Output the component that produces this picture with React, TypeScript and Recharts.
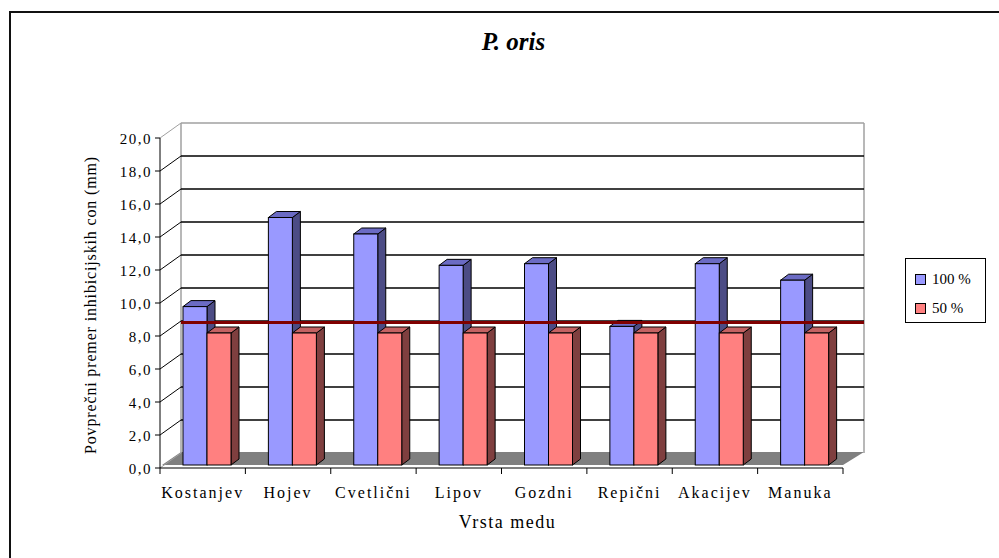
import React from "react"
import { BarChart, Bar, XAxis, YAxis, CartesianGrid, ReferenceArea, ReferenceLine } from "recharts"

const CATEGORIES = ["Kostanjev", "Hojev", "Cvetlični", "Lipov", "Gozdni", "Repični", "Akacijev", "Manuka"]
const FULL = [9.6, 15.0, 14.0, 12.1, 12.2, 8.4, 12.2, 11.2]
const HALF = [8.0, 8.0, 8.0, 8.0, 8.0, 8.0, 8.0, 8.0]
const Y_TICKS = [0, 2, 4, 6, 8, 10, 12, 14, 16, 18, 20]
const THRESHOLD = 8.7
const SERIES_NAMES = ["100 %", "50 %"]

const data = CATEGORIES.map((name, i) => ({ name, full: FULL[i], half: HALF[i] }))

// chart geometry
const W = 999
const H = 558
const MARGIN = { top: 138, right: 156, bottom: 60, left: 100 }
const Y_AXIS_W = 60
const X_AXIS_H = 30
const PLOT_LEFT = MARGIN.left + Y_AXIS_W
const PLOT_TOP = MARGIN.top
const PLOT_BOTTOM = H - MARGIN.bottom - X_AXIS_H
const PLOT_W = W - MARGIN.right - PLOT_LEFT
const BAND = PLOT_W / CATEGORIES.length

// 3d depth of the walls and of the columns
const DX = 21
const DY = 15
const COL_DX = 8
const COL_DY = 6

const FONT = "Liberation Serif, Times New Roman, DejaVu Serif, serif"
const WALL = "#a0a0a0"

const COLORS = [
  { face: "#9999ff", side: "#4c4c85", top: "#6b6bc4" },
  { face: "#ff8080", side: "#7f3f3f", top: "#c46262" },
]

function column3D(c: { face: string; side: string; top: string }) {
  return (p: any) => {
    const x = p.x + 4
    const y = p.y - 3
    const w = p.width
    const h = p.height
    if (!h) return <g />
    return (
      <g stroke="#000" strokeWidth={1}>
        <polygon
          points={`${x + w},${y} ${x + w + COL_DX},${y - COL_DY} ${x + w + COL_DX},${y + h - COL_DY} ${x + w},${y + h}`}
          fill={c.side}
        />
        <polygon
          points={`${x},${y} ${x + COL_DX},${y - COL_DY} ${x + w + COL_DX},${y - COL_DY} ${x + w},${y}`}
          fill={c.top}
        />
        <rect x={x} y={y} width={w} height={h} fill={c.face} />
      </g>
    )
  }
}

// back wall, side wall edges and floor
function Box3D(p: any) {
  const { x, y, width, height } = p
  const b = y + height
  return (
    <g>
      <polygon
        points={`${x + 2},${b - 3} ${x + width},${b - 3} ${x + width + DX},${b - DY - 1} ${x + DX},${b - DY - 1}`}
        fill="#808080"
      />
      <line x1={x} y1={b} x2={x + DX} y2={b - DY} stroke={WALL} />
      <line x1={x + DX} y1={y - DY} x2={x + DX} y2={b - DY} stroke={WALL} strokeWidth={1.5} />
      <line x1={x + width + DX} y1={y - DY} x2={x + width + DX} y2={b - DY} stroke={WALL} strokeWidth={1.5} />
    </g>
  )
}

function gridLine(p: any) {
  const { x1, x2, y1 } = p
  if (Math.abs(y1 - PLOT_BOTTOM) < 1) return <g key={p.key} />
  const isTop = Math.abs(y1 - PLOT_TOP) < 1
  const stroke = isTop ? WALL : "#000"
  return (
    <g key={p.key}>
      <line x1={x1} y1={y1} x2={x1 + DX} y2={y1 - DY} stroke={stroke} />
      <line x1={x1 + DX} y1={y1 - DY} x2={x2 + DX} y2={y1 - DY} stroke={stroke} strokeWidth={1.5} />
    </g>
  )
}

function YTick(p: any) {
  const { x, y, payload } = p
  return (
    <g>
      <line x1={x - 5} y1={y} x2={x} y2={y} stroke="#000" />
      <text x={x - 8} y={y + 6} textAnchor="end" fontFamily={FONT} fontSize={15} fill="#000" letterSpacing={1.5}>
        {Number(payload.value).toFixed(1).replace(".", ",")}
      </text>
    </g>
  )
}

function XTick(p: any) {
  const { x, y, payload, index } = p
  const last = index === CATEGORIES.length - 1
  return (
    <g>
      <line x1={x - BAND / 2} y1={y} x2={x - BAND / 2} y2={y + 6} stroke="#000" />
      {last && <line x1={x + BAND / 2} y1={y} x2={x + BAND / 2} y2={y + 6} stroke="#000" />}
      <text x={x} y={y + 30} textAnchor="middle" fontFamily={FONT} fontSize={16} fill="#000" letterSpacing={2}>
        {payload.value}
      </text>
    </g>
  )
}

function ThresholdLine(p: any) {
  return <line x1={p.x1 + DX} y1={p.y1 - 2} x2={p.x2 + DX} y2={p.y2 - 2} stroke="#800000" strokeWidth={3} />
}

export default function App() {
  return (
    <div style={{ position: "absolute", left: 0, top: 0, width: W, height: H, overflow: "hidden", background: "#fff", fontFamily: FONT }}>
      <div style={{ position: "absolute", left: 9, top: 11, width: 1000, height: 560, borderLeft: "2px solid #111", borderTop: "2px solid #111" }} />
      <div style={{ position: "absolute", left: 0, width: W, top: 28, textAlign: "center", fontSize: 25, fontWeight: "bold", fontStyle: "italic", paddingLeft: 14 }}>
        P. oris
      </div>
      <BarChart
        width={W}
        height={H}
        data={data}
        margin={MARGIN}
        barGap={0}
        style={{ position: "absolute", left: 0, top: 0 }}
      >
        <ReferenceArea y1={0} y2={20} shape={Box3D} zIndex={-200} />
        <CartesianGrid vertical={false} horizontal={gridLine} />
        <XAxis
          dataKey="name"
          height={X_AXIS_H}
          axisLine={{ stroke: "#000" }}
          tickLine={false}
          tickSize={0}
          tickMargin={0}
          tick={XTick}
          interval={0}
        />
        <YAxis
          width={Y_AXIS_W}
          domain={[0, 20]}
          ticks={Y_TICKS}
          axisLine={{ stroke: "#000" }}
          tickLine={false}
          tickSize={0}
          tickMargin={0}
          tick={YTick}
          interval={0}
        />
        <Bar dataKey="full" name={SERIES_NAMES[0]} barSize={24} shape={column3D(COLORS[0])} isAnimationActive={false} />
        <Bar dataKey="half" name={SERIES_NAMES[1]} barSize={24} shape={column3D(COLORS[1])} isAnimationActive={false} />
        <ReferenceLine y={THRESHOLD} shape={ThresholdLine} zIndex={1000} />
      </BarChart>
      <div
        style={{
          position: "absolute",
          left: 91 - 165,
          top: 305 - 10,
          width: 330,
          height: 20,
          lineHeight: "20px",
          textAlign: "center",
          fontSize: 16,
          letterSpacing: 0.85,
          transform: "rotate(-90deg)",
        }}
      >
        Povprečni premer inhibicijskih con (mm)
      </div>
      <div style={{ position: "absolute", left: 0, width: W, top: 512, textAlign: "center", fontSize: 18, paddingLeft: 8, letterSpacing: 1.5 }}>
        Vrsta medu
      </div>
      <div style={{ position: "absolute", left: 905, top: 258, width: 79, height: 63, border: "1px solid #000", fontSize: 15 }}>
        {SERIES_NAMES.map((n, i) => (
          <div key={n} style={{ position: "absolute", left: 9, top: 12 + i * 29, display: "flex", alignItems: "center" }}>
            <span style={{ width: 9, height: 9, background: COLORS[i].face, border: "1px solid #000", marginRight: 6 }} />
            <span>{n}</span>
          </div>
        ))}
      </div>
    </div>
  )
}
